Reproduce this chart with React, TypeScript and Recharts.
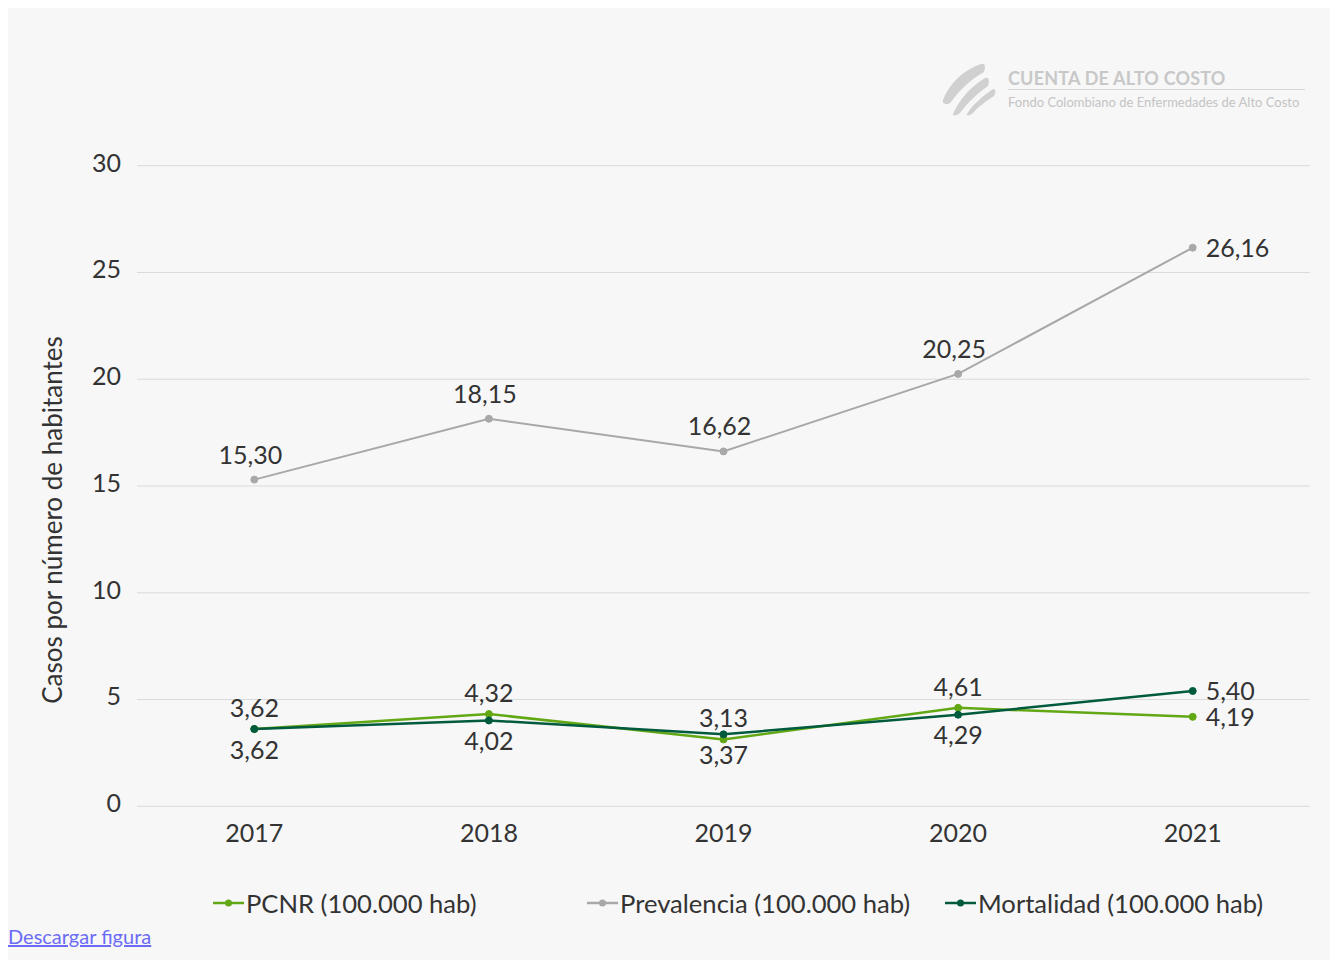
import React from 'react';
import { LineChart, Line, XAxis, YAxis, CartesianGrid, Legend, LabelList } from 'recharts';

const years = ['2017', '2018', '2019', '2020', '2021'];
const pcnr = [3.62, 4.32, 3.13, 4.61, 4.19];
const prevalencia = [15.3, 18.15, 16.62, 20.25, 26.16];
const mortalidad = [3.62, 4.02, 3.37, 4.29, 5.4];
const yTicks = [0, 5, 10, 15, 20, 25, 30];

const seriesNames = {
  pcnr: 'PCNR (100.000 hab)',
  prevalencia: 'Prevalencia (100.000 hab)',
  mortalidad: 'Mortalidad (100.000 hab)',
};

const COLORS = {
  pcnr: '#62a814',
  prevalencia: '#a8a8a8',
  mortalidad: '#005a3e',
};

const data = years.map((y, i) => ({
  year: y,
  pcnr: pcnr[i],
  prevalencia: prevalencia[i],
  mortalidad: mortalidad[i],
}));

const FONT = 'Lato, "Noto Sans", sans-serif';
const TEXT = '#333333';
const FS = 25;

const fmt = (v: number) => v.toFixed(2).replace('.', ',');

function makeLabel(place: 'top' | 'bottom', offset: number, lastIdx: number, dx = 0) {
  return (props: any) => {
    const { x, y, value, index } = props;
    const common = { fill: TEXT, fontSize: FS, fontFamily: FONT } as any;
    if (index === lastIdx) {
      return (
        <text x={x + 13} y={y} dy="0.355em" textAnchor="start" {...common}>
          {fmt(value)}
        </text>
      );
    }
    if (place === 'top') {
      return (
        <text x={x + dx} y={y - offset} textAnchor="middle" {...common}>
          {fmt(value)}
        </text>
      );
    }
    return (
      <text x={x + dx} y={y + offset} dy="0.71em" textAnchor="middle" {...common}>
        {fmt(value)}
      </text>
    );
  };
}

const legendItems = [
  { key: 'pcnr', left: 205 },
  { key: 'prevalencia', left: 579 },
  { key: 'mortalidad', left: 937 },
] as const;

const LegendContent = () => (
  <div style={{ position: 'relative', height: 32, width: 1322 }}>
    {legendItems.map((it) => (
      <div
        key={it.key}
        style={{
          position: 'absolute',
          left: it.left,
          top: 0,
          height: 32,
          display: 'flex',
          alignItems: 'center',
          fontFamily: FONT,
          fontSize: 25.6,
          color: TEXT,
          whiteSpace: 'nowrap',
        }}
      >
        <svg width={32} height={12} style={{ marginRight: 1 }}>
          <line x1={0} y1={6} x2={31} y2={6} stroke={COLORS[it.key]} strokeWidth={2.5} />
          <circle cx={15.5} cy={6} r={3.5} fill={COLORS[it.key]} />
        </svg>
        <span>{seriesNames[it.key]}</span>
      </div>
    ))}
  </div>
);

const YLabel = (props: any) => {
  const vb = props.viewBox || { x: 0, y: 0, width: 0, height: 0 };
  const cx = vb.x + 44;
  const cy = vb.y + vb.height / 2 + 34;
  return (
    <text
      x={cx}
      y={cy}
      transform={`rotate(-90, ${cx}, ${cy})`}
      textAnchor="middle"
      dominantBaseline="central"
      fill={TEXT}
      fontSize={26}
      fontFamily={FONT}
    >
      Casos por número de habitantes
    </text>
  );
};

const Logo = () => (
  <div style={{ position: 'absolute', left: 922, top: 48, width: 390, height: 70 }}>
    <svg width={70} height={62} style={{ position: 'absolute', left: 5, top: 2 }}>
      <path d="M8 42 C14 26 28 12 46 6 C50 5 51 8 49 14 C38 20 26 30 16 44 C12 48 7 46 8 42 Z" fill="#d0d0d0" />
      <path d="M18 56 C25 40 37 28 50 20 C54 19 55 22 53 28 C44 34 33 44 25 55 C22 58 17 58 18 56 Z" fill="#d0d0d0" />
      <path d="M32 56 C38 46 48 38 58 31 C61 31 61 34 59 38 C51 43 43 49 38 55 C35 58 31 58 32 56 Z" fill="#d0d0d0" />
    </svg>
    <div
      style={{
        position: 'absolute',
        left: 78,
        top: 11,
        fontFamily: FONT,
        fontWeight: 700,
        fontSize: 18,
        color: '#c8c8c8',
        whiteSpace: 'nowrap',
        letterSpacing: 0.2,
      }}
    >
      CUENTA DE ALTO COSTO
    </div>
    <div style={{ position: 'absolute', left: 78, top: 33, width: 297, height: 1, background: '#d6d6d6' }} />
    <div
      style={{
        position: 'absolute',
        left: 78,
        top: 38,
        fontFamily: FONT,
        fontSize: 13,
        color: '#c4c4c4',
        whiteSpace: 'nowrap',
      }}
    >
      Fondo Colombiano de Enfermedades de Alto Costo
    </div>
  </div>
);

export default function App() {
  return (
    <div style={{ position: 'relative', width: 1322, height: 952, background: '#f7f7f7', fontFamily: FONT }}>
      <div style={{ position: 'absolute', left: 0, top: 0 }}>
        <LineChart
          width={1322}
          height={900}
          data={data}
          margin={{ top: 157.7, right: 20, bottom: 41.7, left: 0 }}
        >
          <CartesianGrid horizontal vertical={false} stroke="#dadada" strokeWidth={1} />
          <XAxis
            dataKey="year"
            scale="band"
            axisLine={false}
            tickLine={false}
            tickSize={0}
            tickMargin={18}
            height={60}
            tick={{ fill: TEXT, fontSize: FS, fontFamily: FONT }}
          />
          <YAxis
            domain={[0, 30]}
            ticks={yTicks}
            interval={0}
            axisLine={false}
            tickLine={false}
            tickSize={0}
            tickMargin={16}
            width={129}
            tick={{ fill: TEXT, fontSize: FS, fontFamily: FONT, dy: -3 }}
            label={<YLabel />}
          />
          <Legend
            verticalAlign="middle"
            align="center"
            layout="horizontal"
            wrapperStyle={{ top: 879, left: 0, width: 1322 }}
            content={<LegendContent />}
          />
          <Line
            type="linear"
            dataKey="prevalencia"
            name={seriesNames.prevalencia}
            stroke={COLORS.prevalencia}
            strokeWidth={2}
            dot={{ r: 3.5, fill: COLORS.prevalencia, stroke: COLORS.prevalencia, strokeWidth: 1 }}
            activeDot={false}
            isAnimationActive={false}
          >
            <LabelList dataKey="prevalencia" content={makeLabel('top', 16, 4, -4)} />
          </Line>
          <Line
            type="linear"
            dataKey="pcnr"
            name={seriesNames.pcnr}
            stroke={COLORS.pcnr}
            strokeWidth={2.5}
            dot={{ r: 3.5, fill: COLORS.pcnr, stroke: COLORS.pcnr, strokeWidth: 1 }}
            activeDot={false}
            isAnimationActive={false}
          >
            <LabelList dataKey="pcnr" content={makeLabel('top', 12, 4)} />
          </Line>
          <Line
            type="linear"
            dataKey="mortalidad"
            name={seriesNames.mortalidad}
            stroke={COLORS.mortalidad}
            strokeWidth={2.5}
            dot={{ r: 3.5, fill: COLORS.mortalidad, stroke: COLORS.mortalidad, strokeWidth: 1 }}
            activeDot={false}
            isAnimationActive={false}
          >
            <LabelList dataKey="mortalidad" content={makeLabel('bottom', 12, 4)} />
          </Line>
        </LineChart>
      </div>
      <Logo />
      <a
        href="#"
        style={{
          position: 'absolute',
          left: 0,
          top: 916,
          fontFamily: FONT,
          fontSize: 20,
          color: '#6b6bf5',
          textDecoration: 'underline',
        }}
      >
        Descargar figura
      </a>
    </div>
  );
}
